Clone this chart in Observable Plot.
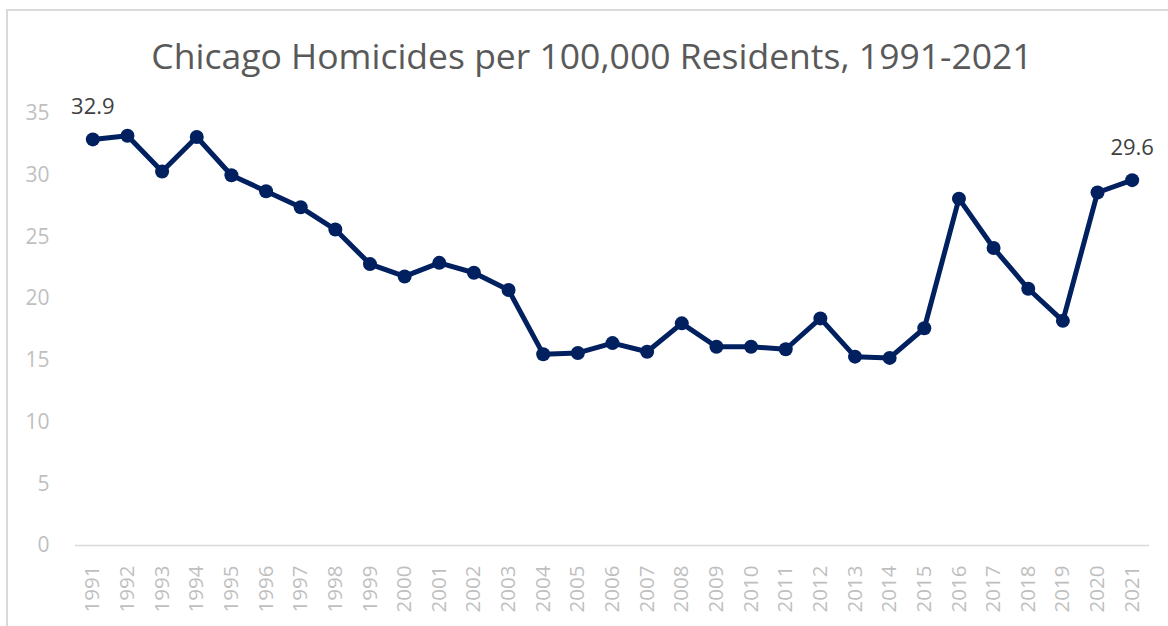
<!DOCTYPE html>
<html>
<head>
<meta charset="utf-8">
<script src="https://cdn.jsdelivr.net/npm/d3@7"></script>
<script src="https://cdn.jsdelivr.net/npm/@observablehq/plot@0.6"></script>
<style>
  html, body { margin: 0; padding: 0; background: #fff; width: 1168px; height: 626px; overflow: hidden; }
  #frame { position: absolute; left: 6px; top: 9px; width: 1200px; height: 700px;
           border-left: 2px solid #d9d9d9; border-top: 2px solid #d9d9d9; }
  #title { position: absolute; left: 0; width: 1184px; top: 38px; text-align: center;
           font-family: "Open Sans", sans-serif; font-size: 35.5px; color: #595959; line-height: 1; white-space: nowrap; }
  #chart { position: absolute; left: 0; top: 90px; }
</style>
</head>
<body>
<div id="frame"></div>
<div id="title">Chicago Homicides per 100,000 Residents, 1991-2021</div>
<div id="chart"></div>
<script>
const years = ["1991","1992","1993","1994","1995","1996","1997","1998","1999","2000",
  "2001","2002","2003","2004","2005","2006","2007","2008","2009","2010",
  "2011","2012","2013","2014","2015","2016","2017","2018","2019","2020","2021"];
const rates = [32.9, 33.2, 30.3, 33.1, 30.0, 28.7, 27.4, 25.6, 22.8, 21.8,
  22.9, 22.1, 20.7, 15.5, 15.6, 16.4, 15.7, 18.0, 16.1, 16.1,
  15.9, 18.4, 15.3, 15.2, 17.6, 28.1, 24.1, 20.8, 18.2, 28.6, 29.6];
const yTicks = [0, 5, 10, 15, 20, 25, 30, 35];
const labeledYears = ["1991", "2021"];

const data = years.map((year, i) => ({year, rate: rates[i]}));
const labeled = data.filter(d => labeledYears.includes(d.year));

const chart = Plot.plot({
  width: 1168,
  height: 536,
  marginTop: 23,
  marginBottom: 81,
  marginLeft: 75,
  marginRight: 19,
  style: {fontFamily: "Open Sans, sans-serif", background: "transparent"},
  x: {type: "point", domain: years, padding: 0.5, round: false, label: null},
  y: {domain: [0, 35], ticks: yTicks, label: null},
  marks: [
    Plot.ruleY([0], {stroke: "#d9d9d9", strokeWidth: 1.5}),
    Plot.axisY({ticks: yTicks, tickSize: 0, tickPadding: 26, fontSize: 21, color: "#bfbfbf", label: null}),
    Plot.axisX({tickSize: 0, tickPadding: 20, tickRotate: -90, fontSize: 20.5, color: "#bfbfbf", label: null}),
    Plot.line(data, {x: "year", y: "rate", stroke: "#002060", strokeWidth: 5}),
    Plot.dot(data, {x: "year", y: "rate", fill: "#002060", r: 7}),
    Plot.text(labeled, {x: "year", y: "rate", text: d => d.rate.toFixed(1), dy: -32, fontSize: 22, fill: "#404040"})
  ]
});
document.getElementById("chart").appendChild(chart);
</script>
</body>
</html>
